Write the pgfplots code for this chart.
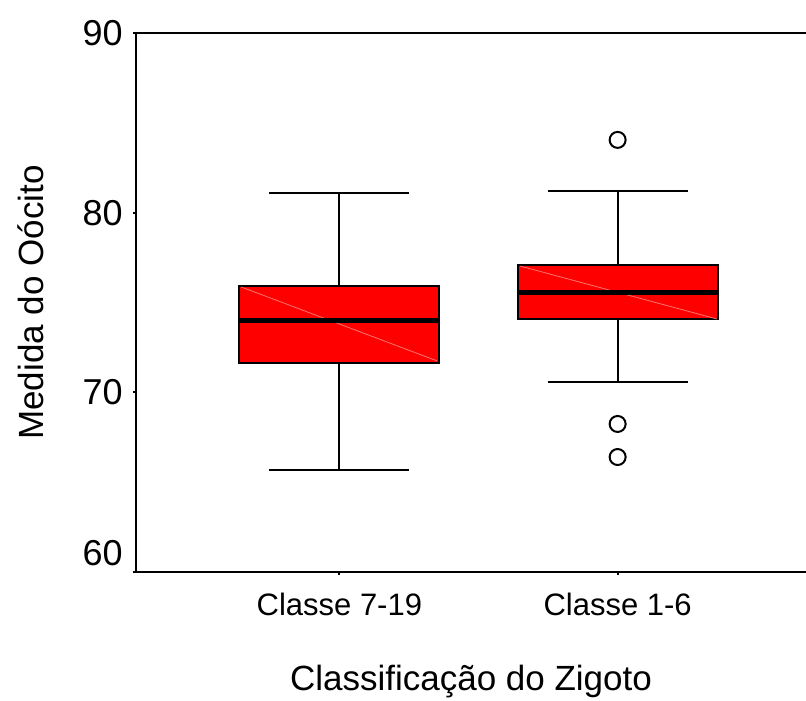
\documentclass[border=0pt]{standalone}
\usepackage{fontspec}
\setmainfont{Liberation Sans}
\usepackage{pgfplots}
\pgfplotsset{compat=1.18}
\begin{document}
\begin{tikzpicture}
\begin{axis}[
 name=ax, scale only axis, width=335pt, height=269.5pt,
 xmin=0.269, xmax=2.677, ymin=60, ymax=90,
 axis lines*=left, clip=false,
 axis line style={line width=1pt, black},
 xtick={1,2}, xticklabels={Classe 7-19, Classe 1-6},
 ytick={60,70,80,90}, yticklabels={\raisebox{19pt}{60},70,80,90},
 tick align=outside, major tick length=1.5pt,
 tick style={line width=1pt, black},
 /pgf/number format/assume math mode=true,
 yticklabel style={font=\fontsize{18}{20}\selectfont, anchor=east, inner sep=0pt, xshift=-5pt},
 xticklabel style={font=\fontsize{15.5}{18}\selectfont, anchor=base, inner sep=0pt, yshift=-20pt},
 ylabel={Medida do Oócito}, xlabel={Classificação do Zigoto},
 every axis y label/.style={at={(axis description cs:0,0.5)}, xshift=-46pt, rotate=90, anchor=base, font=\fontsize{17.5}{20}\selectfont},
 every axis x label/.style={at={(axis description cs:0.5,0)}, yshift=-59pt, anchor=base, font=\fontsize{17.5}{20}\selectfont},
]
% Classe 7-19
\addplot[draw=black, line width=1pt] coordinates {(1,75.94) (1,81.08)};
\addplot[draw=black, line width=1pt] coordinates {(1,71.65) (1,65.67)};
\addplot[draw=black, line width=1pt] coordinates {(0.7485,81.08) (1.2515,81.08)};
\addplot[draw=black, line width=1pt] coordinates {(0.7485,65.67) (1.2515,65.67)};
\addplot[fill=red, draw=black, line width=1pt] coordinates {(0.6405,71.65) (1.3595,71.65) (1.3595,75.94) (0.6405,75.94)} -- cycle;
\addplot[draw=red!55!white, line width=0.4pt] coordinates {(0.646,75.87) (1.351,71.75)};
\addplot[draw=black, line width=2.3pt] coordinates {(0.6405,73.99) (1.3595,73.99)};
% Classe 1-6
\addplot[draw=black, line width=1pt] coordinates {(2,77.09) (2,81.19)};
\addplot[draw=black, line width=1pt] coordinates {(2,74.07) (2,70.6)};
\addplot[draw=black, line width=1pt] coordinates {(1.7485,81.19) (2.2515,81.19)};
\addplot[draw=black, line width=1pt] coordinates {(1.7485,70.6) (2.2515,70.6)};
\addplot[fill=red, draw=black, line width=1pt] coordinates {(1.6405,74.07) (2.3595,74.07) (2.3595,77.09) (1.6405,77.09)} -- cycle;
\addplot[draw=red!55!white, line width=0.4pt] coordinates {(1.649,77.03) (2.357,74.08)};
\addplot[draw=black, line width=2.3pt] coordinates {(1.6405,75.57) (2.3595,75.57)};
% outliers
\addplot[only marks, mark=o, mark size=4pt, mark options={draw=black, line width=1pt, fill=none}] coordinates {(2,84.05) (2,68.24) (2,66.4)};
\draw[line width=1pt] (rel axis cs:0,1) -- (rel axis cs:1,1);
\end{axis}
\pgfresetboundingbox
\path[use as bounding box] ([xshift=-68pt,yshift=-64pt]ax.south west) rectangle ([yshift=16.5pt]ax.north east);
\end{tikzpicture}
\end{document}
